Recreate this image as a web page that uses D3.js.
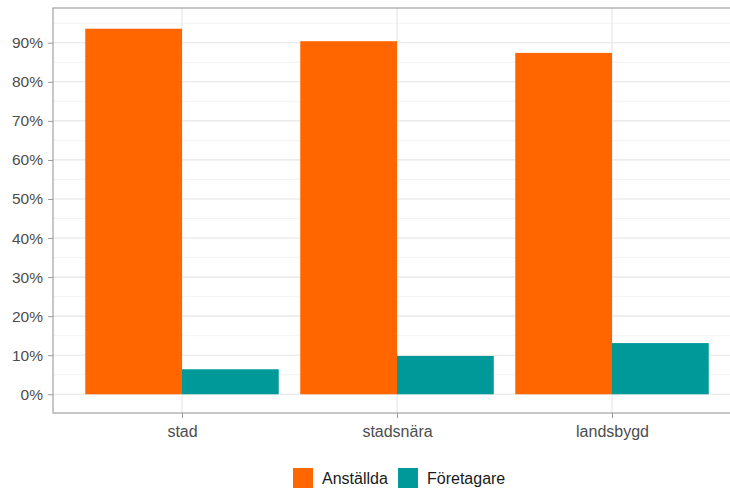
<!DOCTYPE html>
<html>
<head>
<meta charset="utf-8">
<script src="https://cdn.jsdelivr.net/npm/d3@7"></script>
<style>
  html, body { margin: 0; padding: 0; background: #fff; }
  svg { display: block; font-family: "Liberation Sans", Arial, sans-serif; }
</style>
</head>
<body>
<svg id="chart" width="730" height="493"></svg>
<script>
const categories = ["stad", "stadsnära", "landsbygd"];
const seriesNames = ["Anställda", "Företagare"];
const anstallda = [93.6, 90.4, 87.4];
const foretagare = [6.4, 9.8, 13.1];
const majorTicks = [0, 10, 20, 30, 40, 50, 60, 70, 80, 90];
const minorTicks = [5, 15, 25, 35, 45, 55, 65, 75, 85, 95];
const colors = ["#ff6600", "#009999"];

const svg = d3.select("#chart");
const panel = { left: 53, top: 8, bottom: 413, right: 741 };

// continuous x positions for discrete categories (ggplot style)
const x = d3.scaleLinear().domain([0.4, 3.6]).range([panel.left, panel.right]);
const y = d3.scaleLinear().domain([-4.8, 98.9]).range([panel.bottom, panel.top]);

const data = categories.map((c, i) => ({ cat: c, idx: i + 1, values: [anstallda[i], foretagare[i]] }));

const g = svg.append("g");

// grid
g.selectAll("line.minor").data(minorTicks).join("line")
  .attr("x1", panel.left).attr("x2", panel.right)
  .attr("y1", d => y(d)).attr("y2", d => y(d))
  .attr("stroke", "#f0f0f0").attr("stroke-width", 0.8);
g.selectAll("line.major").data(majorTicks).join("line")
  .attr("x1", panel.left).attr("x2", panel.right)
  .attr("y1", d => y(d)).attr("y2", d => y(d))
  .attr("stroke", "#e4e4e4").attr("stroke-width", 1.1);
g.selectAll("line.vgrid").data(data).join("line")
  .attr("x1", d => x(d.idx)).attr("x2", d => x(d.idx))
  .attr("y1", panel.top).attr("y2", panel.bottom)
  .attr("stroke", "#e4e4e4").attr("stroke-width", 1.1);

// bars
const barW = 0.45;
data.forEach(d => {
  d.values.forEach((v, j) => {
    const x0 = d.idx - 0.45 + j * barW;
    g.append("rect")
      .attr("x", x(x0))
      .attr("width", x(x0 + barW) - x(x0))
      .attr("y", y(v))
      .attr("height", y(0) - y(v))
      .attr("fill", colors[j]);
  });
});

// panel border
g.append("rect")
  .attr("x", panel.left).attr("y", panel.top)
  .attr("width", panel.right - panel.left).attr("height", panel.bottom - panel.top)
  .attr("fill", "none").attr("stroke", "#9a9a9a").attr("stroke-width", 1.1);

// y axis
const yAxis = d3.axisLeft(y).tickValues(majorTicks).tickFormat(d => d + "%").tickSize(5).tickPadding(5);
const ya = svg.append("g").attr("transform", `translate(${panel.left},0)`).call(yAxis);
ya.select(".domain").remove();
ya.selectAll(".tick line").attr("stroke", "#9a9a9a");
ya.selectAll(".tick text").attr("fill", "#4d4d4d").style("font-size", "15.5px")
  .style("font-family", "Liberation Sans, Arial, sans-serif");

// x axis
const xAxis = d3.axisBottom(x).tickValues(data.map(d => d.idx)).tickFormat((d, i) => categories[i]).tickSize(5).tickPadding(8);
const xa = svg.append("g").attr("transform", `translate(0,${panel.bottom})`).call(xAxis);
xa.select(".domain").remove();
xa.selectAll(".tick line").attr("stroke", "#9a9a9a");
xa.selectAll(".tick text").attr("fill", "#4d4d4d").style("font-size", "16px")
  .style("font-family", "Liberation Sans, Arial, sans-serif");

// legend
const legendItems = [
  { name: seriesNames[0], color: colors[0], x: 293, tx: 322 },
  { name: seriesNames[1], color: colors[1], x: 398, tx: 427 }
];
const lg = svg.append("g");
legendItems.forEach(it => {
  lg.append("rect").attr("x", it.x).attr("y", 468).attr("width", 20).attr("height", 20).attr("fill", it.color);
  lg.append("text").attr("x", it.tx).attr("y", 484).text(it.name)
    .attr("fill", "#1a1a1a").style("font-size", "16px");
});
</script>
</body>
</html>
